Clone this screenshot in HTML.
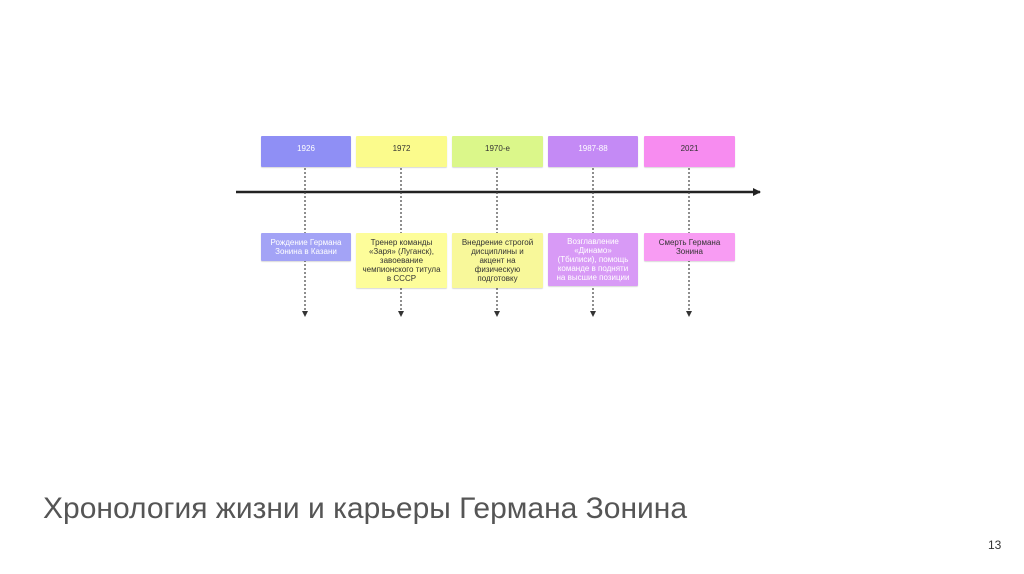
<!DOCTYPE html>
<html><head><meta charset="utf-8"><style>
body{margin:0;width:1024px;height:574px;background:#fff;position:relative;overflow:hidden;font-family:"Liberation Sans",sans-serif}
.b{position:absolute;display:flex;align-items:center;justify-content:center;text-align:center;font-size:8px;line-height:9px;color:#333;box-shadow:0 1px 1px rgba(0,0,0,.15);border-radius:1px;box-sizing:border-box}
.t{padding-bottom:6px}
.w{color:#fff}
</style></head><body>
<svg width="1024" height="574" style="position:absolute;left:0;top:0">
<defs><marker id="a" markerWidth="8" markerHeight="8" refX="7" refY="4" orient="auto" markerUnits="userSpaceOnUse"><path d="M0,0 L8,4 L0,8z" fill="#222"/></marker>
<marker id="s" markerWidth="6" markerHeight="6" refX="5" refY="3" orient="auto" markerUnits="userSpaceOnUse"><path d="M0,0 L6,3 L0,6z" fill="#333"/></marker></defs>
<line x1="236" y1="192" x2="760" y2="192" stroke="#222" stroke-width="2.5" marker-end="url(#a)"/>
<g stroke="#444" stroke-width="1.2" stroke-dasharray="2,2" marker-end="url(#s)">
<line x1="305" y1="168" x2="305" y2="316"/>
<line x1="401" y1="168" x2="401" y2="316"/>
<line x1="497" y1="168" x2="497" y2="316"/>
<line x1="593" y1="168" x2="593" y2="316"/>
<line x1="689" y1="168" x2="689" y2="316"/>
</g></svg>
<div class="b w t" style="left:261px;top:136px;width:90px;height:31px;background:#8f8ff5">1926</div>
<div class="b t" style="left:356px;top:136px;width:91px;height:31px;background:#fbfb8c">1972</div>
<div class="b t" style="left:452px;top:136px;width:91px;height:31px;background:#dbf78a">1970-е</div>
<div class="b w t" style="left:548px;top:136px;width:90px;height:31px;background:#c48af5">1987-88</div>
<div class="b t" style="left:644px;top:136px;width:91px;height:31px;background:#f78cf0">2021</div>
<div class="b w" style="left:261px;top:233px;width:90px;height:28px;background:#a3a3f6">Рождение Германа<br>Зонина в Казани</div>
<div class="b" style="left:356px;top:233px;width:91px;height:55px;background:#fdfd9a">Тренер команды<br>«Заря» (Луганск),<br>завоевание<br>чемпионского титула<br>в СССР</div>
<div class="b" style="left:452px;top:233px;width:91px;height:55px;background:#f8f89a">Внедрение строгой<br>дисциплины и<br>акцент на<br>физическую<br>подготовку</div>
<div class="b w" style="left:548px;top:233px;width:90px;height:53px;background:#d89af6">Возглавление<br>«Динамо»<br>(Тбилиси), помощь<br>команде в подняти<br>на высшие позиции</div>
<div class="b" style="left:644px;top:233px;width:91px;height:28px;background:#f89cf3">Смерть Германа<br>Зонина</div>
<div style="position:absolute;left:43px;top:492px;font-size:30px;color:#555;white-space:nowrap">Хронология жизни и карьеры Германа Зонина</div>
<div style="position:absolute;left:988px;top:538px;font-size:12px;color:#333">13</div>
</body></html>
